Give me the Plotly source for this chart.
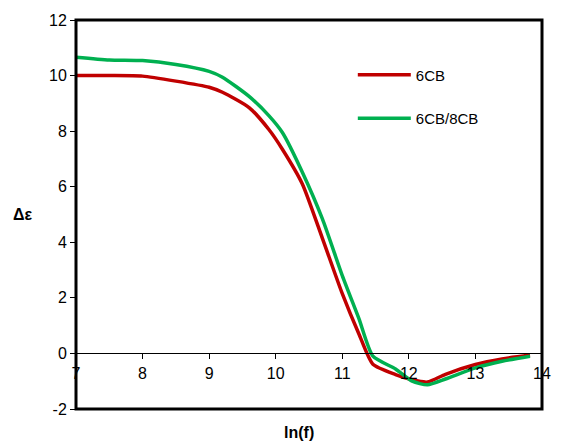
import plotly.graph_objects as go

# Data
ln_f = [7.0, 7.5, 8.0, 8.5, 9.0, 9.2, 9.6, 9.9, 10.1, 10.4, 10.7, 11.0, 11.25,
        11.46, 11.8, 12.05, 12.28, 12.55, 13.0, 13.4, 13.82]
eps_6cb = [10.0, 10.0, 9.98, 9.8, 9.58, 9.4, 8.85, 8.05, 7.35, 6.1, 4.15, 2.15, 0.7,
           -0.39, -0.76, -0.95, -1.03, -0.75, -0.40, -0.2, -0.06]
eps_6cb8cb = [10.66, 10.56, 10.54, 10.4, 10.15, 9.94, 9.25, 8.55, 7.95, 6.52, 4.85, 2.8, 1.25,
              -0.1, -0.56, -1.0, -1.13, -0.92, -0.52, -0.28, -0.1]
names = ["6CB", "6CB/8CB"]
colors = ["#C00000", "#00B050"]
x_ticks = [7, 8, 9, 10, 11, 12, 13, 14]
y_ticks = [-2, 0, 2, 4, 6, 8, 10, 12]

FONT = "Arial, Liberation Sans, sans-serif"

fig = go.Figure()
for i, ys in enumerate([eps_6cb, eps_6cb8cb]):
    fig.add_trace(go.Scatter(
        x=ln_f, y=ys, mode="lines", name=names[i],
        line=dict(color=colors[i], width=3.5, shape="spline", smoothing=0.6),
        legendgroup=names[i],
    ))

fig.update_layout(
    width=563, height=446,
    margin=dict(l=76, r=13, t=18, b=37),
    paper_bgcolor="white", plot_bgcolor="white",
    font=dict(family=FONT, size=16, color="black"),
    showlegend=True,
    legend=dict(x=0.594, y=0.901, xanchor="left", yanchor="top",
                font=dict(family=FONT, size=15, color="black"),
                bgcolor="rgba(0,0,0,0)", tracegroupgap=21, itemwidth=53),
    xaxis=dict(range=[7, 14], tickvals=x_ticks, ticktext=[str(t) for t in x_ticks],
               anchor="free", position=1/7, showline=True, linecolor="black", linewidth=1,
               ticks="outside", ticklen=5, tickcolor="black", tickwidth=1,
               showgrid=False, zeroline=False, tickfont=dict(size=16)),
    yaxis=dict(range=[-2, 12], tickvals=y_ticks, ticktext=[str(t) for t in y_ticks],
               ticks="outside", ticklen=5, tickcolor="black", tickwidth=1,
               showgrid=False, zeroline=False, showline=False, tickfont=dict(size=16)),
)

fig.add_shape(type="rect", xref="paper", yref="paper", x0=0, y0=0, x1=1, y1=1,
              line=dict(color="black", width=3))

fig.add_annotation(text="<b>ln(f)</b>", xref="paper", yref="paper", x=0.479, y=-0.06,
                   xanchor="center", yanchor="middle", showarrow=False,
                   font=dict(family=FONT, size=16, color="black"))
fig.add_annotation(text="<b>Δε</b>", xref="paper", yref="paper", x=-0.114, y=0.5,
                   xanchor="center", yanchor="middle", showarrow=False,
                   font=dict(family=FONT, size=16, color="black"))

fig.write_html("out.html", config={"displayModeBar": False},
               post_script="document.body.style.margin='0';")
